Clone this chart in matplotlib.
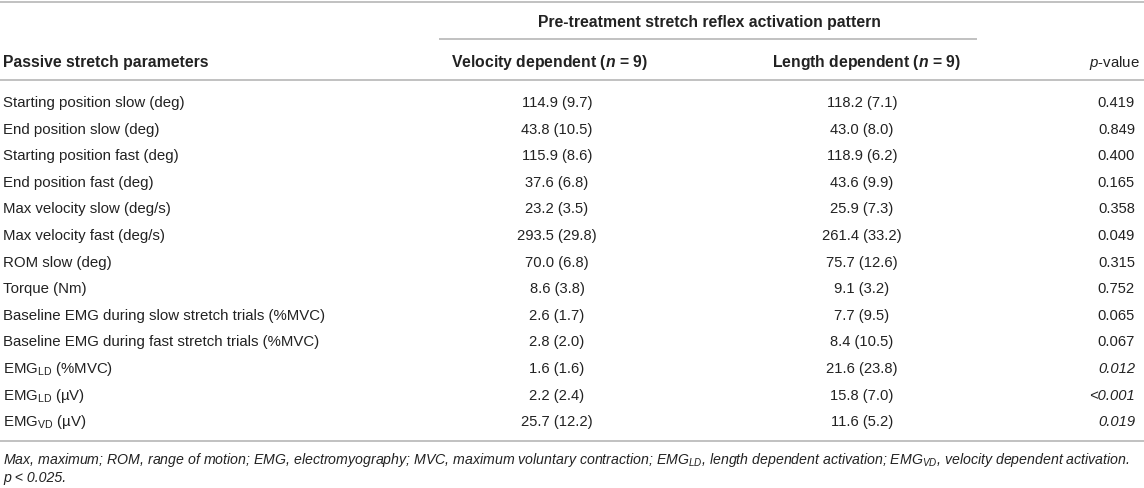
import matplotlib
matplotlib.use("Agg")
import matplotlib.pyplot as plt

plt.rcParams['font.family'] = ['Liberation Sans', 'DejaVu Sans']
plt.rcParams['mathtext.fontset'] = 'custom'
plt.rcParams['mathtext.rm'] = 'Liberation Sans'
plt.rcParams['mathtext.it'] = 'Liberation Sans:italic'
plt.rcParams['mathtext.bf'] = 'Liberation Sans:bold'
plt.rcParams['mathtext.bfit'] = 'Liberation Sans:italic:bold'

# table data
params = ["Starting position slow (deg)", "End position slow (deg)",
          "Starting position fast (deg)", "End position fast (deg)",
          "Max velocity slow (deg/s)", "Max velocity fast (deg/s)",
          "ROM slow (deg)", "Torque (Nm)",
          "Baseline EMG during slow stretch trials (%MVC)",
          "Baseline EMG during fast stretch trials (%MVC)",
          r"EMG$_{\mathrm{LD}}$ (%MVC)", r"EMG$_{\mathrm{LD}}$ (µV)",
          r"EMG$_{\mathrm{VD}}$ (µV)"]
vd_mean = [114.9, 43.8, 115.9, 37.6, 23.2, 293.5, 70.0, 8.6, 2.6, 2.8, 1.6, 2.2, 25.7]
vd_sd = [9.7, 10.5, 8.6, 6.8, 3.5, 29.8, 6.8, 3.8, 1.7, 2.0, 1.6, 2.4, 12.2]
ld_mean = [118.2, 43.0, 118.9, 43.6, 25.9, 261.4, 75.7, 9.1, 7.7, 8.4, 21.6, 15.8, 11.6]
ld_sd = [7.1, 8.0, 6.2, 9.9, 7.3, 33.2, 12.6, 3.2, 9.5, 10.5, 23.8, 7.0, 5.2]
p_vals = ["0.419", "0.849", "0.400", "0.165", "0.358", "0.049", "0.315",
          "0.752", "0.065", "0.067", "0.012", "<0.001", "0.019"]
p_sig = [False] * 10 + [True] * 3

group_title = "Pre-treatment stretch reflex activation pattern"
col_param = "Passive stretch parameters"
col_vd = r"Velocity dependent ($\mathbfit{n}$ = 9)"
col_ld = r"Length dependent ($\mathbfit{n}$ = 9)"
col_p = r"$\mathit{p}$-value"
footnote = [r"Max, maximum; ROM, range of motion; EMG, electromyography; MVC, maximum voluntary contraction; "
            r"EMG$_{\mathit{LD}}$, length dependent activation; EMG$_{\mathit{VD}}$, velocity dependent activation.",
            "p < 0.025."]

W, H = 1144, 489
fig = plt.figure(figsize=(W / 100, H / 100), dpi=100)
ax = fig.add_axes([0, 0, 1, 1])
ax.set_xlim(0, W)
ax.set_ylim(H, 0)
ax.axis("off")

txt = "#222222"
line_c = "#b0b0b0"
fs_lab = 10.8
fs_val = 10.6
fs_head = 11.3
fs_note = 10.2

# rules
ax.hlines([3, 80.5, 441.5], 0, W, color=line_c, lw=1.1)
ax.hlines(39.5, 439, 977, color=line_c, lw=1.1)

# headers
ax.text(709, 22.5, group_title, ha="center", va="center", fontsize=fs_head,
        fontweight="bold", color=txt)
ax.text(3, 63, col_param, ha="left", va="center", fontsize=fs_head, fontweight="bold", color=txt)
ax.text(549, 63, col_vd, ha="center", va="center", fontsize=fs_head, fontweight="bold", color=txt)
ax.text(866, 63, col_ld, ha="center", va="center", fontsize=fs_head, fontweight="bold", color=txt)
ax.text(1140, 63, col_p, ha="right", va="center", fontsize=fs_lab, color=txt)

# rows
y0, dy = 103, 26.6
for i, name in enumerate(params):
    y = y0 + dy * i
    ax.text(3, y, name, ha="left", va="center", fontsize=fs_lab, color=txt)
    ax.text(557, y, f"{vd_mean[i]:.1f} ({vd_sd[i]:.1f})", ha="center", va="center",
            fontsize=fs_val, color=txt)
    ax.text(862, y, f"{ld_mean[i]:.1f} ({ld_sd[i]:.1f})", ha="center", va="center",
            fontsize=fs_val, color=txt)
    ax.text(1135, y, p_vals[i], ha="right", va="center", fontsize=fs_val, color=txt,
            fontstyle="italic" if p_sig[i] else "normal")

# footnote
ax.text(3, 460, footnote[0], ha="left", va="center", fontsize=fs_note,
        fontstyle="italic", color=txt)
ax.text(3, 478, footnote[1], ha="left", va="center", fontsize=fs_note,
        fontstyle="italic", color=txt)

fig.savefig("out.png", dpi=100)
